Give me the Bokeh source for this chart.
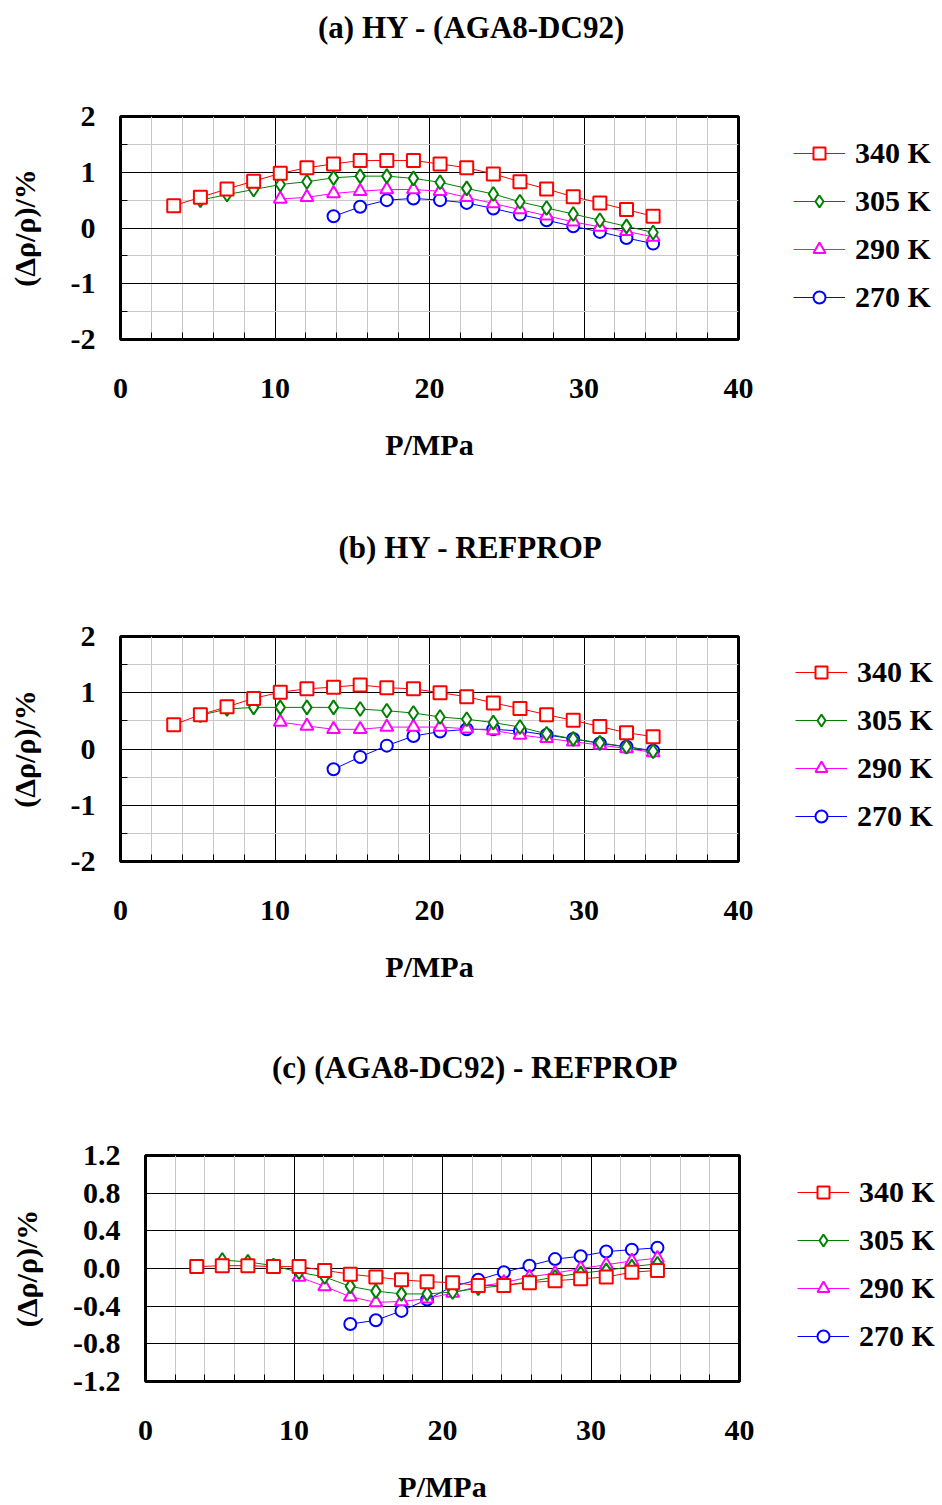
from bokeh.plotting import figure
from bokeh.layouts import row
from bokeh.models import (Range1d, SingleIntervalTicker, FixedTicker, PrintfTickFormatter,
                          Legend, LegendItem, Title)
from bokeh.embed import file_html
from bokeh.resources import INLINE

# ---------------- data ----------------
series_labels = ["340 K", "305 K", "290 K", "270 K"]

P_340 = [3.447, 5.171, 6.895, 8.618, 10.342, 12.066, 13.790, 15.513, 17.237, 18.961,
         20.684, 22.408, 24.132, 25.855, 27.579, 29.303, 31.026, 32.750, 34.474]
P_305 = [5.171, 6.895, 8.618, 10.342, 12.066, 13.790, 15.513, 17.237, 18.961,
         20.684, 22.408, 24.132, 25.855, 27.579, 29.303, 31.026, 32.750, 34.474]
P_290 = [10.342, 12.066, 13.790, 15.513, 17.237, 18.961,
         20.684, 22.408, 24.132, 25.855, 27.579, 29.303, 31.026, 32.750, 34.474]
P_270 = [13.790, 15.513, 17.237, 18.961,
         20.684, 22.408, 24.132, 25.855, 27.579, 29.303, 31.026, 32.750, 34.474]

# (a) HY - (AGA8-DC92)
a_340 = [0.40, 0.55, 0.70, 0.84, 0.98, 1.08, 1.15, 1.21, 1.21, 1.21,
         1.15, 1.08, 0.97, 0.83, 0.70, 0.56, 0.45, 0.33, 0.21]
a_305 = [0.50, 0.60, 0.69, 0.78, 0.83, 0.90, 0.93, 0.93, 0.89,
         0.82, 0.71, 0.61, 0.47, 0.36, 0.25, 0.14, 0.03, -0.08]
a_290 = [0.52, 0.55, 0.62, 0.66, 0.69, 0.69,
         0.66, 0.55, 0.44, 0.33, 0.22, 0.11, 0.02, -0.06, -0.16]
a_270 = [0.21, 0.38, 0.50, 0.53,
         0.50, 0.45, 0.35, 0.24, 0.14, 0.03, -0.07, -0.18, -0.28]

# (b) HY - REFPROP
b_340 = [0.43, 0.61, 0.75, 0.90, 1.01, 1.07, 1.10, 1.14, 1.09, 1.07,
         1.00, 0.93, 0.82, 0.72, 0.61, 0.51, 0.40, 0.29, 0.22]
b_305 = [0.60, 0.71, 0.74, 0.74, 0.74, 0.74, 0.71, 0.68, 0.64,
         0.57, 0.53, 0.47, 0.39, 0.27, 0.18, 0.11, 0.04, -0.04]
b_290 = [0.48, 0.41, 0.35, 0.35, 0.39, 0.39,
         0.39, 0.36, 0.33, 0.25, 0.19, 0.13, 0.07, 0.01, -0.06]
b_270 = [-0.36, -0.14, 0.06, 0.23,
         0.31, 0.35, 0.35, 0.32, 0.25, 0.18, 0.10, 0.04, -0.03]

# (c) (AGA8-DC92) - REFPROP
c_340 = [0.02, 0.03, 0.03, 0.02, 0.02, -0.02, -0.06, -0.09, -0.12, -0.14,
         -0.15, -0.18, -0.18, -0.15, -0.13, -0.11, -0.09, -0.04, -0.02]
c_305 = [0.09, 0.07, 0.03, -0.04, -0.09, -0.19, -0.24, -0.27, -0.27,
         -0.25, -0.21, -0.18, -0.14, -0.09, -0.05, -0.02, 0.02, 0.05]
c_290 = [-0.09, -0.19, -0.30, -0.36, -0.35, -0.32,
         -0.26, -0.19, -0.15, -0.09, -0.05, 0.00, 0.04, 0.08, 0.11]
c_270 = [-0.59, -0.55, -0.45, -0.33,
         -0.19, -0.12, -0.04, 0.03, 0.10, 0.13, 0.18, 0.20, 0.22]

y_ticks_ab = [-2, -1, 0, 1, 2]
y_ticks_c = [-1.2, -0.8, -0.4, 0.0, 0.4, 0.8, 1.2]

# ---------------- style ----------------
FONT = "Liberation Serif"
colors = ["#FF0000", "#008000", "#FF00FF", "#0000FF"]
markers = ["square", "diamond", "triangle", "circle"]
msizes = [13, 14, 13, 12]
pressures = [P_340, P_305, P_290, P_270]
RIGHT_PAD = 17


def panel(title, ys, yticks, yminor, yfmt, fig_h, fl, ft, fr, fb, title_off, spacer,
          leg_x, leg_y):
    main_w = fr + RIGHT_PAD
    p = figure(width=main_w, height=fig_h, x_range=Range1d(0, 40),
               y_range=Range1d(yticks[0], yticks[-1]),
               output_backend="svg", toolbar_location=None,
               min_border_left=fl, min_border_right=RIGHT_PAD,
               min_border_top=0, min_border_bottom=fig_h - fb)
    p.background_fill_color = "white"
    p.border_fill_color = "white"
    p.outline_line_color = "black"
    p.outline_line_width = 3

    xt = SingleIntervalTicker(interval=10, num_minor_ticks=5)
    if yminor:
        yt = SingleIntervalTicker(interval=yticks[1] - yticks[0], num_minor_ticks=yminor)
    else:
        yt = FixedTicker(ticks=yticks)
    p.xaxis.ticker = xt
    p.xgrid.ticker = xt
    p.yaxis.ticker = yt
    p.ygrid.ticker = yt
    p.xaxis.formatter = PrintfTickFormatter(format="%d")
    p.yaxis.formatter = PrintfTickFormatter(format=yfmt)

    for g in (p.xgrid[0], p.ygrid[0]):
        g.grid_line_color = "black"
        g.grid_line_width = 1
        g.minor_grid_line_color = "#c8c8c8"
        g.minor_grid_line_width = 1
    if not yminor:
        p.ygrid.minor_grid_line_color = None

    for ax in (p.xaxis[0], p.yaxis[0]):
        ax.axis_line_color = None
        ax.major_tick_out = 0
        ax.major_tick_in = 6
        ax.major_tick_line_color = "black"
        ax.minor_tick_out = 0
        ax.minor_tick_in = 7
        ax.minor_tick_line_color = "black"
        ax.major_label_text_font = FONT
        ax.major_label_text_font_size = "30px"
        ax.major_label_text_font_style = "bold"
        ax.major_label_text_color = "black"
        ax.axis_label_text_font = FONT
        ax.axis_label_text_font_size = "30px"
        ax.axis_label_text_font_style = "bold"
        ax.axis_label_text_color = "black"
    p.xaxis.axis_label = "P/MPa"
    p.yaxis.axis_label = "(Δρ/ρ)/%"
    p.xaxis.major_label_standoff = 39
    p.xaxis.axis_label_standoff = 27
    p.yaxis.major_label_standoff = 25
    p.yaxis.axis_label_standoff = 27

    for i in reversed(range(4)):
        p.line(pressures[i], ys[i], line_color=colors[i], line_width=1)
        p.scatter(pressures[i], ys[i], marker=markers[i], size=msizes[i],
                  line_color=colors[i], line_width=2, fill_color="white")

    # spacer between the frame and the title (nearest the frame)
    p.add_layout(Title(text=" ", text_font_size="10px", standoff=spacer), "above")
    p.add_layout(Title(text=title, align="left", offset=title_off, vertical_align="top",
                       standoff=14, text_font=FONT, text_font_size="31px",
                       text_font_style="bold", text_color="black"), "above")

    # legend panel to the right (its renderers hold the same series, kept out of view)
    q = figure(width=942 - main_w, height=fig_h, x_range=Range1d(0, 40),
               y_range=Range1d(10, 11),
               output_backend="svg", toolbar_location=None,
               x_axis_location=None, y_axis_location=None,
               min_border_left=0, min_border_right=0,
               min_border_top=ft, min_border_bottom=fig_h - fb)
    q.outline_line_color = None
    q.background_fill_color = "white"
    q.border_fill_color = "white"
    q.grid.visible = False
    items = []
    for i in range(4):
        lr = q.line(pressures[i], ys[i], line_color=colors[i], line_width=1)
        sr = q.scatter(pressures[i], ys[i], marker=markers[i], size=msizes[i],
                       line_color=colors[i], line_width=2, fill_color="white")
        items.append(LegendItem(label=series_labels[i], renderers=[lr, sr]))
    legend = Legend(items=items, location=(leg_x - RIGHT_PAD, leg_y))
    legend.border_line_color = None
    legend.background_fill_alpha = 0
    legend.label_text_font = FONT
    legend.label_text_font_size = "30px"
    legend.label_text_font_style = "bold"
    legend.label_text_color = "black"
    legend.glyph_width = 52
    legend.glyph_height = 30
    legend.label_height = 30
    legend.label_standoff = 10
    legend.spacing = 14
    legend.padding = 0
    legend.margin = 0
    q.add_layout(legend, "center")
    return row(p, q, spacing=0)


ra = panel("(a) HY - (AGA8-DC92)", [a_340, a_305, a_290, a_270], y_ticks_ab, 2, "%d",
           520, 120, 116, 738, 339, 197.5, 50, 55, 25)
rb = panel("(b) HY - REFPROP", [b_340, b_305, b_290, b_270], y_ticks_ab, 2, "%d",
           520, 120, 116, 738, 341, 218, 50, 57, 28)
rc = panel("(c) (AGA8-DC92) - REFPROP", [c_340, c_305, c_290, c_270], y_ticks_c, 0, "%.1f",
           465, 145, 115, 739, 342, 126.5, 49, 58, 28)

open("out.html", "w").write(file_html([ra, rb, rc], INLINE))
